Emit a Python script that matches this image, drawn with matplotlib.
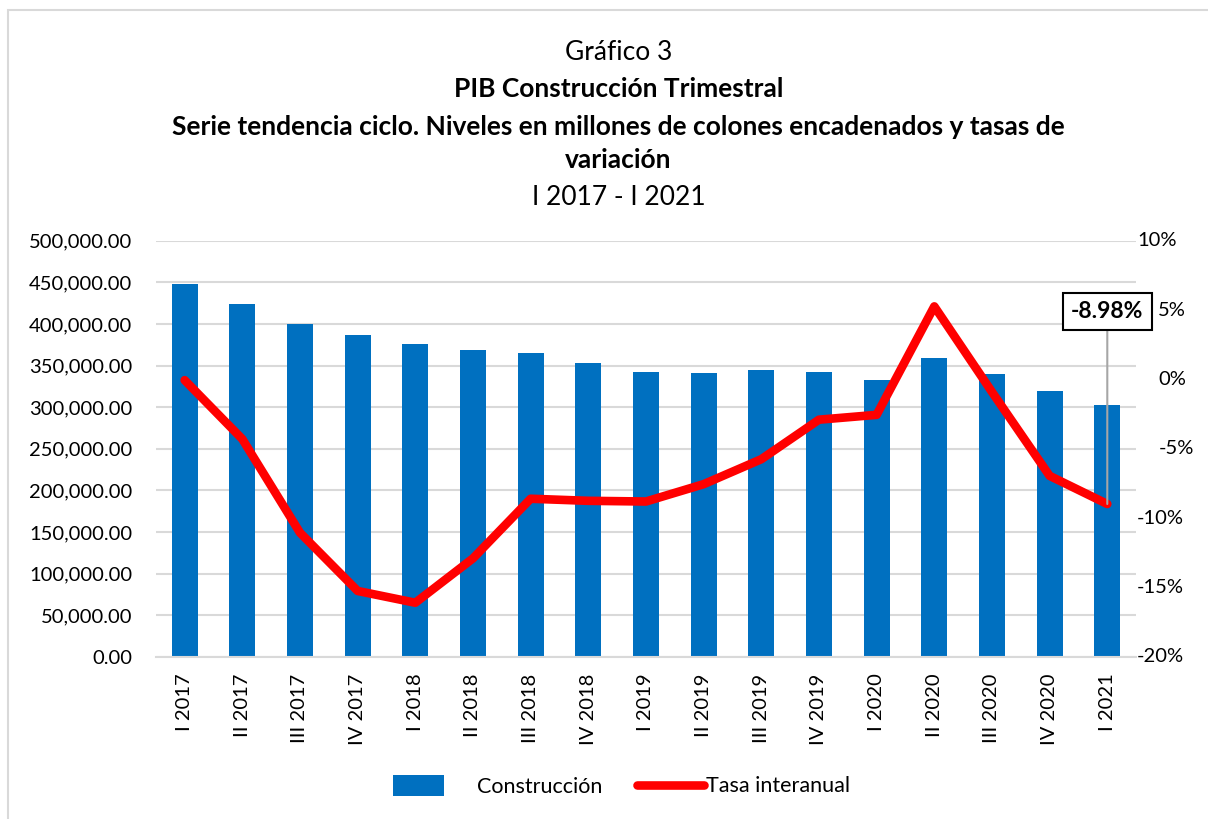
import numpy as np
import matplotlib.pyplot as plt
from matplotlib.patches import Rectangle
from matplotlib.ticker import FuncFormatter

plt.rcParams['font.family'] = ['Lato', 'DejaVu Sans']

# Datos
trimestres = ['I 2017', 'II 2017', 'III 2017', 'IV 2017',
              'I 2018', 'II 2018', 'III 2018', 'IV 2018',
              'I 2019', 'II 2019', 'III 2019', 'IV 2019',
              'I 2020', 'II 2020', 'III 2020', 'IV 2020', 'I 2021']
construccion = [448000, 424000, 400300, 386800,
                375600, 369100, 365500, 353200,
                342000, 340800, 344400, 342700,
                333100, 359500, 340000, 319200, 303100]
tasa = [-0.05, -4.3, -11.05, -15.25,
        -16.1, -12.9, -8.6, -8.75,
        -8.8, -7.55, -5.75, -2.9,
        -2.55, 5.27, -0.9, -6.95, -8.98]
ticks_pct = [-20, -15, -10, -5, 0, 5, 10]

azul = '#0070C0'
rojo = '#FF0000'
gris = '#D9D9D9'

fig = plt.figure(figsize=(12.08, 8.19), dpi=100)
ax = fig.add_axes([0.129, 0.198, 0.8115, 0.508])
ax2 = ax.twinx()

x = np.arange(len(trimestres))
barras = ax.bar(x, construccion, width=0.45, color=azul, zorder=2, label='Construcción')
linea, = ax2.plot(x, tasa, color=rojo, linewidth=6.2, solid_joinstyle='round',
                  solid_capstyle='round', zorder=3, label='Tasa interanual')

ax.set_ylim(0, 500000)
ax.set_yticks(np.arange(0, 500001, 50000))
ax.yaxis.set_major_formatter(FuncFormatter(lambda v, p: f'{v:,.2f}'))
ax.set_xlim(-0.5, len(trimestres) - 0.5)
ax.set_xticks(x)
ax.set_xticklabels(trimestres, rotation=90)
ax.grid(axis='y', color=gris, linewidth=1.5, zorder=0)
ax.set_axisbelow(True)

ax2.set_ylim(-20, 10)
ax2.set_yticks(ticks_pct)
ax2.set_yticklabels([])

for a in (ax, ax2):
    for s in a.spines.values():
        s.set_visible(False)
    a.tick_params(length=0, labelsize=14.5, colors='black')
ax.tick_params(axis='x', pad=12, labelsize=14.5)
ax.tick_params(axis='y', pad=17)
ax.spines['bottom'].set_visible(True)
ax.spines['bottom'].set_color(gris)
ax.spines['bottom'].set_linewidth(1.5)

# Etiquetas del eje derecho (las de un digito van corridas como en el original)
for v in ticks_pct:
    desp = 0.8 if abs(v) >= 10 else 16
    ax2.annotate(f'{v}%', xy=(1, v), xycoords=ax2.get_yaxis_transform(),
                 xytext=(desp, 0), textcoords='offset points',
                 ha='left', va='center', fontsize=14.5)

# Etiqueta del ultimo dato
ax2.annotate(f'{tasa[-1]:.2f}%', xy=(x[-1], tasa[-1]), xytext=(x[-1], 4.9),
             ha='center', va='center', fontsize=16.5, fontweight='bold',
             bbox=dict(boxstyle='square,pad=0.35', fc='white', ec='black', lw=1.5),
             arrowprops=dict(arrowstyle='-', color='#A6A6A6', lw=1.5,
                             shrinkA=0, shrinkB=0), zorder=5)

# Titulos
titulo = dict(ha='center', va='center', fontsize=19)
fig.text(0.512, 0.936, 'Gráfico 3', **titulo)
fig.text(0.512, 0.891, 'PIB Construcción Trimestral', fontweight='bold', **titulo)
fig.text(0.512, 0.845, 'Serie tendencia ciclo. Niveles en millones de colones encadenados y tasas de',
         fontweight='bold', **titulo)
fig.text(0.512, 0.805, 'variación', fontweight='bold', **titulo)
fig.text(0.512, 0.759, 'I 2017 - I 2021', **titulo)

# Leyenda (dos partes, como en el original)
leg1 = fig.legend(handles=[barras], labels=['Construcción'],
                  loc='center left', bbox_to_anchor=(0.325, 0.04), frameon=False,
                  fontsize=15.5, handlelength=2.4, handleheight=1.1, handletextpad=1.5,
                  borderaxespad=0, borderpad=0)
leg2 = fig.legend(handles=[linea], labels=['Tasa interanual'],
                  loc='center left', bbox_to_anchor=(0.527, 0.04), frameon=False,
                  fontsize=15.5, handlelength=3.15, handletextpad=0.05,
                  borderaxespad=0, borderpad=0)

# Borde del area del grafico
fig.patches.append(Rectangle((0.0066, -0.1), 1.2, 1.088, transform=fig.transFigure,
                             fill=False, edgecolor=gris, linewidth=1.5))

plt.savefig('out.png', dpi=100)
